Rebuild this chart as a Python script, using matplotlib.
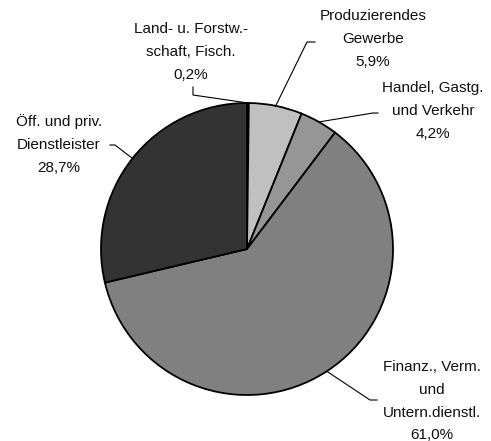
import numpy as np
import matplotlib
matplotlib.use("Agg")
import matplotlib.pyplot as plt

plt.rcParams['font.family'] = ['Liberation Sans', 'DejaVu Sans']

# Anteile (%)
labels = ["Land- u. Forstw.-\nschaft, Fisch.", "Produzierendes\nGewerbe",
          "Handel, Gastg.\nund Verkehr", "Finanz., Verm.\nund\nUntern.dienstl.",
          "Öff. und priv.\nDienstleister"]
values = [0.2, 5.9, 4.2, 61.0, 28.7]
pct_text = ["0,2%", "5,9%", "4,2%", "61,0%", "28,7%"]
colors = ["#ffffff", "#c0c0c0", "#969696", "#808080", "#333333"]

W, H = 491, 441
fig = plt.figure(figsize=(W / 100, H / 100), dpi=100)
ax = fig.add_axes([0, 0, 1, 1])

cx, cy, r = 247, H - 249, 146
wedges, _ = ax.pie(values, colors=colors, startangle=90, counterclock=False,
                   center=(cx, cy), radius=r, frame=True,
                   wedgeprops=dict(edgecolor="black", linewidth=1.3))
ax.set_xlim(0, W)
ax.set_ylim(0, H)
ax.set_aspect("equal")
ax.axis("off")

# label text centre (x, y of top line in image px), elbow point, text-end of leader
label_pos = [(191, 22), (373, 9), (433, 81), (432, 360), (59, 114)]
elbows = [(193, 87), (307, 42), (373, 113), (370, 400), (115, 145)]
ends = [(193, 95), (315, 42), (378, 113), (377, 400), (110, 145)]

for i, w in enumerate(wedges):
    mid = np.deg2rad((w.theta1 + w.theta2) / 2)
    sx, sy = cx + r * np.cos(mid), cy + r * np.sin(mid)
    ex, ey = elbows[i]
    tx, ty = ends[i]
    if i == 0:
        ax.plot([sx, tx, ex], [sy, H - ty, H - ey], color="black", lw=0.8)
    else:
        ax.plot([sx, ex, tx], [sy, H - ey, H - ty], color="black", lw=0.8)
    lx, ly = label_pos[i]
    ax.text(lx, H - ly, labels[i] + "\n" + pct_text[i], ha="center", va="top",
            fontsize=11, linespacing=1.8, color="#111111")

fig.savefig("out.png", dpi=100)
